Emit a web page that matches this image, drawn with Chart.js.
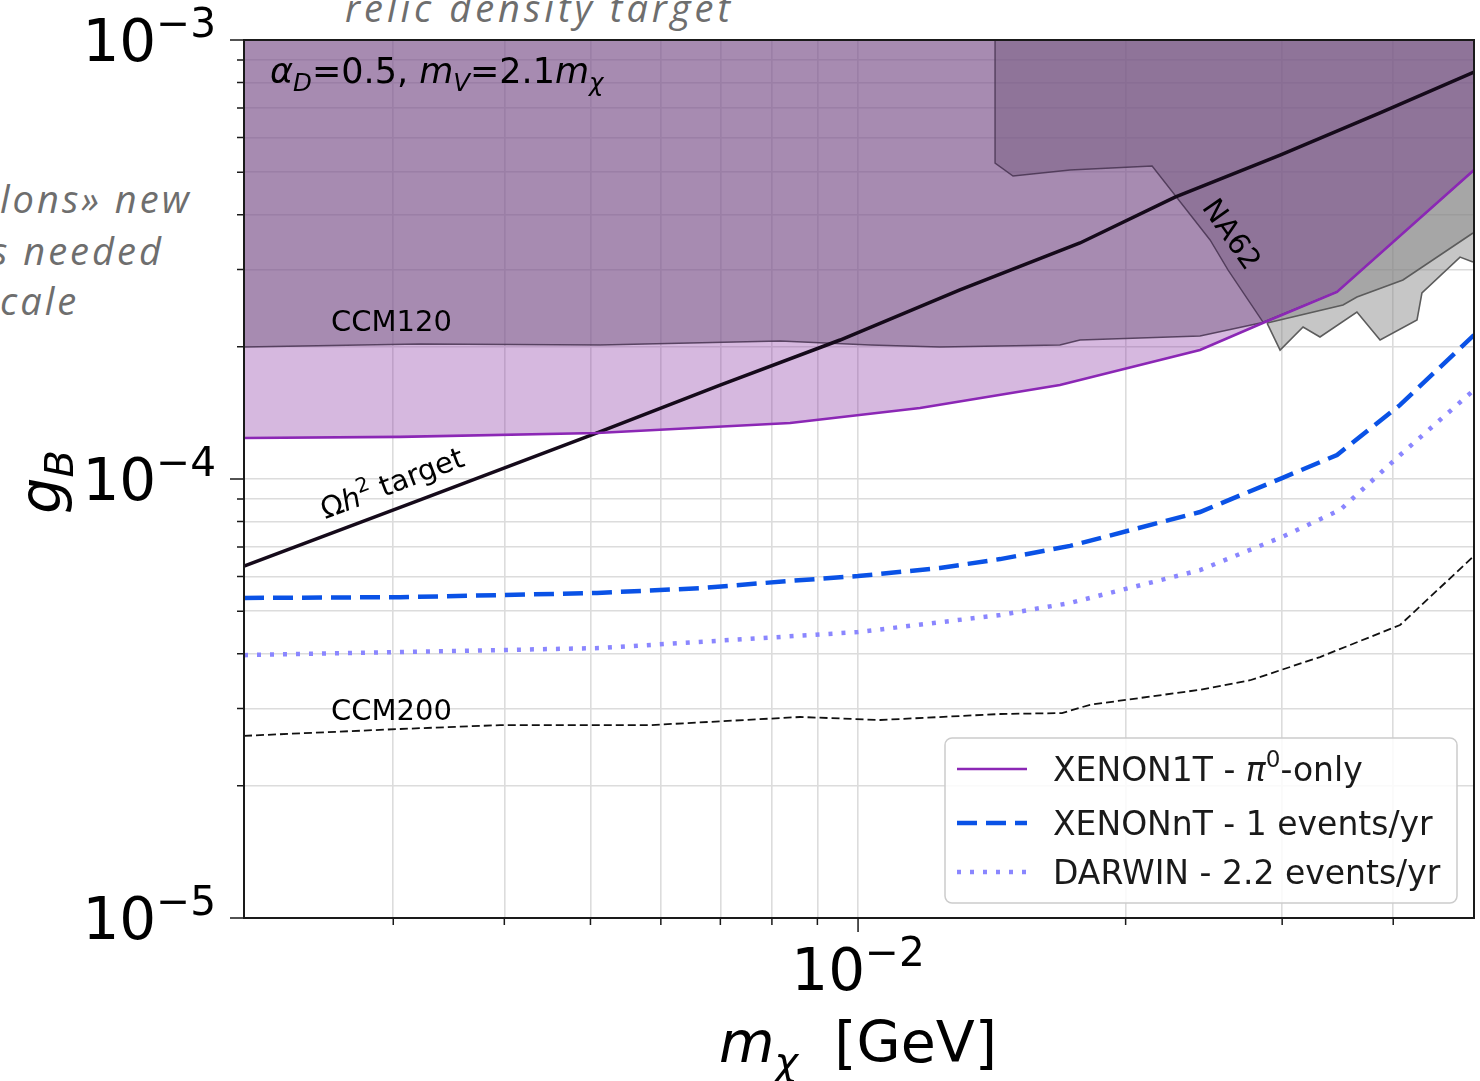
<!DOCTYPE html>
<html lang="en">
<head>
  <meta charset="UTF-8">
  <title>g_B vs m_chi - CCM / XENON / DARWIN reach</title>
  <script src="https://cdn.jsdelivr.net/npm/chart.js"></script>
  <style>
    html, body {
      margin: 0;
      padding: 0;
      background: #fff;
      overflow: hidden;
    }

    body {
      width: 1480px;
      height: 1081px;
      position: relative;
    }

    #plot {
      position: absolute;
      left: 0;
      top: 0;
    }

    .slide {
      position: absolute;
      color: #6e6e6e;
      font-family: 'Open Sans', sans-serif;
      font-style: italic;
      font-size: 38px;
      line-height: 1;
      white-space: nowrap;
      letter-spacing: 3px;
    }
  </style>
</head>
<body>

  <div class="slide" style="left:345px; top:-12px; letter-spacing:4px;">relic density target</div>
  <div class="slide" style="left:0px; top:179px;">lons» new</div>
  <div class="slide" style="left:-9px; top:231px;">s needed</div>
  <div class="slide" style="left:0px; top:281px;">cale</div>

  <canvas id="plot" width="1480" height="1081"></canvas>

  <script>
    // axis ranges and ticks
    const X_MIN = 0.002038, X_MAX = 0.04931;
    const Y_MIN = 1e-5, Y_MAX = 1e-3;
    const xTicks = [0.003, 0.004, 0.005, 0.006, 0.007, 0.008, 0.009, 0.01, 0.02, 0.03, 0.04];
    const yTicks = [1e-5, 2e-5, 3e-5, 4e-5, 5e-5, 6e-5, 7e-5, 8e-5, 9e-5,
                    1e-4, 2e-4, 3e-4, 4e-4, 5e-4, 6e-4, 7e-4, 8e-4, 9e-4, 1e-3];
    const xMajor = [0.01], xMajorExp = ['−2'];
    const yMajor = [1e-5, 1e-4, 1e-3], yMajorExp = ['−5', '−4', '−3'];

    // relic density target line
    const mOmega = [0.002038, 0.003216, 0.005086, 0.006995, 0.009545, 0.01302, 0.01777, 0.02273, 0.02984, 0.03866, 0.04931];
    const gOmega = [6.33e-5, 8.96e-5, 1.273e-4, 1.637e-4, 2.073e-4, 2.695e-4, 3.449e-4, 4.387e-4, 5.47e-4, 6.82e-4, 8.455e-4];

    // XENON1T pi0-only
    const mXe1T = [0.002038, 0.003053, 0.005086, 0.008386, 0.01174, 0.01687, 0.02425, 0.02870, 0.03458, 0.04931];
    const gXe1T = [1.240e-4, 1.247e-4, 1.273e-4, 1.341e-4, 1.451e-4, 1.637e-4, 1.967e-4, 2.278e-4, 2.667e-4, 5.056e-4];

    // XENONnT - 1 events/yr
    const mXeNT = [0.002038, 0.003053, 0.005086, 0.006642, 0.008386, 0.01, 0.01236, 0.01445, 0.01732, 0.02425, 0.02999, 0.03458, 0.04072, 0.04931];
    const gXeNT = [5.36e-5, 5.38e-5, 5.50e-5, 5.64e-5, 5.86e-5, 6.01e-5, 6.27e-5, 6.57e-5, 7.04e-5, 8.41e-5, 1.005e-4, 1.134e-4, 1.475e-4, 2.128e-4];

    // DARWIN - 2.2 events/yr
    const mDarwin = [0.002038, 0.005126, 0.01, 0.01445, 0.01732, 0.02425, 0.02999, 0.03485, 0.04072, 0.04931];
    const gDarwin = [3.97e-5, 4.12e-5, 4.48e-5, 4.90e-5, 5.22e-5, 6.20e-5, 7.38e-5, 8.50e-5, 1.134e-4, 1.595e-4];

    // CCM200 projection
    const mCCM200 = [0.002038, 0.003053, 0.003956, 0.005834, 0.008605, 0.01059, 0.01445, 0.01696, 0.01824, 0.02425, 0.02761, 0.03309, 0.04072, 0.04931];
    const gCCM200 = [2.60e-5, 2.695e-5, 2.75e-5, 2.75e-5, 2.87e-5, 2.825e-5, 2.915e-5, 2.93e-5, 3.06e-5, 3.31e-5, 3.48e-5, 3.93e-5, 4.65e-5, 6.68e-5];

    // CCM120 excluded region (lower edge)
    const mCCM120 = [0.002038, 0.003216, 0.005126, 0.008173, 0.01032, 0.01236, 0.01687, 0.01777, 0.02425, 0.02870, 0.03458, 0.04931];
    const gCCM120 = [1.998e-4, 2.030e-4, 2.019e-4, 2.062e-4, 2.019e-4, 1.998e-4, 2.019e-4, 2.073e-4, 2.117e-4, 2.278e-4, 2.667e-4, 5.056e-4];

    // NA62 excluded region (lower edge)
    const mNA62 = [0.01426, 0.01426, 0.01494, 0.01732, 0.02142, 0.02489, 0.02608, 0.02855, 0.03458, 0.04931];
    const gNA62 = [1e-3, 5.245e-4, 4.899e-4, 5.056e-4, 5.164e-4, 3.503e-4, 2.992e-4, 2.278e-4, 2.667e-4, 5.056e-4];

    // grey bounds (other limits), filled up to XENON1T
    const mGreyUp = [0.02885, 0.03512, 0.03641, 0.04102, 0.04918];
    const gGreyUp = [2.266e-4, 2.491e-4, 2.598e-4, 2.840e-4, 3.634e-4];
    const mGreyLow = [0.02885, 0.02984, 0.03167, 0.03309, 0.03641, 0.03866, 0.04254, 0.04309, 0.04756, 0.04918];
    const gGreyLow = [2.266e-4, 1.967e-4, 2.219e-4, 2.106e-4, 2.401e-4, 2.073e-4, 2.302e-4, 2.653e-4, 3.203e-4, 3.120e-4];

    const FONT = '"DejaVu Sans", sans-serif';
    const C_XE1T = '#8b27b5', C_XENT = '#0a52e6', C_DARWIN = '#8a86ff';

    function pts(xs, ys) {
      return xs.map((x, i) => ({ x: x, y: ys[i] }));
    }

    // text with italic / sub / sup pieces
    function richText(ctx, parts, x, y, size, align) {
      const pieces = parts.map(([t, s]) => {
        const small = s.endsWith('sub') || s.endsWith('sup');
        const sz = small ? size * 0.7 : size;
        const italic = s[0] === 'i';
        const dy = s.endsWith('sub') ? size * 0.22 : s.endsWith('sup') ? -size * 0.42 : 0;
        const font = (italic ? 'italic ' : '') + sz.toFixed(1) + 'px ' + FONT;
        ctx.font = font;
        return { t, font, dy, w: ctx.measureText(t).width };
      });
      const total = pieces.reduce((a, p) => a + p.w, 0);
      let cx = align === 'right' ? x - total : align === 'center' ? x - total / 2 : x;
      ctx.textAlign = 'left';
      pieces.forEach(p => {
        ctx.font = p.font;
        ctx.fillText(p.t, cx, y + p.dy);
        cx += p.w;
      });
      return total;
    }

    const legendRows = [
      { ds: 1, parts: [['XENON1T - ', 'n'], ['π', 'i'], ['0', 'sup'], ['-only', 'n']] },
      { ds: 2, parts: [['XENONnT - 1 events/yr', 'n']] },
      { ds: 3, parts: [['DARWIN - 2.2 events/yr', 'n']] }
    ];

    const decorPlugin = {
      id: 'decor',
      afterDatasetsDraw(chart) {
        const ctx = chart.ctx;
        const a = chart.chartArea;
        const xs = chart.scales.x, ys = chart.scales.y;
        ctx.save();

        // frame
        ctx.strokeStyle = '#1a1a1a';
        ctx.lineWidth = 2;
        ctx.strokeRect(a.left, a.top, a.right - a.left, a.bottom - a.top);

        // tick marks
        ctx.lineWidth = 1.5;
        ctx.beginPath();
        yTicks.forEach(v => {
          const p = ys.getPixelForValue(v);
          const len = yMajor.includes(v) ? 14 : 7;
          ctx.moveTo(a.left, p);
          ctx.lineTo(a.left - len, p);
        });
        xTicks.forEach(v => {
          const p = xs.getPixelForValue(v);
          const len = xMajor.includes(v) ? 14 : 7;
          ctx.moveTo(p, a.bottom);
          ctx.lineTo(p, a.bottom + len);
        });
        ctx.stroke();

        // tick labels
        ctx.fillStyle = '#000';
        ctx.textBaseline = 'alphabetic';
        yMajor.forEach((v, i) => {
          richText(ctx, [['10', 'n'], [yMajorExp[i], 'sup']], 216, ys.getPixelForValue(v) + 21, 58, 'right');
        });
        xMajor.forEach((v, i) => {
          richText(ctx, [['10', 'n'], [xMajorExp[i], 'sup']], xs.getPixelForValue(v), 990, 58, 'center');
        });

        // axis titles
        richText(ctx, [['m', 'i'], ['χ', 'isub'], ['  [GeV]', 'n']], 858, 1062, 57, 'center');
        ctx.save();
        ctx.translate(60, 482);
        ctx.rotate(-Math.PI / 2);
        richText(ctx, [['g', 'i'], ['B', 'isub']], 0, 0, 57, 'center');
        ctx.restore();

        // annotations inside the plot
        richText(ctx, [['α', 'i'], ['D', 'isub'], ['=0.5, ', 'n'], ['m', 'i'], ['V', 'isub'], ['=2.1', 'n'], ['m', 'i'], ['χ', 'isub']], 270, 83, 35, 'left');
        richText(ctx, [['CCM120', 'n']], 331, 331, 29, 'left');
        richText(ctx, [['CCM200', 'n']], 331, 720, 29, 'left');

        ctx.save();
        ctx.translate(1232, 234);
        ctx.rotate(55 * Math.PI / 180);
        richText(ctx, [['NA62', 'n']], 0, 10, 29, 'center');
        ctx.restore();

        ctx.save();
        ctx.translate(392, 483);
        ctx.rotate(-21 * Math.PI / 180);
        richText(ctx, [['Ω', 'n'], ['h', 'i'], ['2', 'sup'], [' target', 'n']], 0, 10, 29, 'center');
        ctx.restore();

        // legend
        const lx = 945, ly = 738, lw = 512, lh = 165;
        ctx.beginPath();
        ctx.roundRect(lx, ly, lw, lh, 7);
        ctx.fillStyle = 'rgba(255,255,255,0.85)';
        ctx.fill();
        ctx.strokeStyle = '#cccccc';
        ctx.lineWidth = 1.5;
        ctx.stroke();

        const rowY = [769, 823, 872];
        legendRows.forEach((row, i) => {
          const ds = chart.data.datasets[row.ds];
          ctx.beginPath();
          ctx.setLineDash(ds.borderDash || []);
          ctx.lineCap = 'butt';
          ctx.strokeStyle = ds.borderColor;
          ctx.lineWidth = ds.borderWidth;
          ctx.moveTo(957, rowY[i]);
          ctx.lineTo(1027, rowY[i]);
          ctx.stroke();
          ctx.setLineDash([]);
          ctx.fillStyle = '#1a1a1a';
          richText(ctx, row.parts, 1053, rowY[i] + 12, 33, 'left');
        });

        ctx.restore();
      }
    };

    const ctx = document.getElementById('plot').getContext('2d');
    new Chart(ctx, {
      type: 'line',
      data: {
        datasets: [
          { label: 'Ωh² target', data: pts(mOmega, gOmega), borderColor: '#150a1a', borderWidth: 3.5, fill: false, order: 2 },
          { label: 'XENON1T - π0-only', data: pts(mXe1T, gXe1T), borderColor: C_XE1T, borderWidth: 2.6, fill: false, order: 1 },
          { label: 'XENONnT - 1 events/yr', data: pts(mXeNT, gXeNT), borderColor: C_XENT, borderWidth: 4.5, borderDash: [20, 9], fill: false, order: 2 },
          { label: 'DARWIN - 2.2 events/yr', data: pts(mDarwin, gDarwin), borderColor: C_DARWIN, borderWidth: 4.5, borderDash: [4, 9], fill: false, order: 3 },
          { label: 'CCM200', data: pts(mCCM200, gCCM200), borderColor: '#111', borderWidth: 1.8, borderDash: [8, 4], fill: false, order: 4 },
          { label: 'grey upper', data: pts(mGreyUp, gGreyUp), borderColor: '#5c5c5c', borderWidth: 1.6,
            backgroundColor: 'rgba(128,128,128,0.45)', fill: { target: 1 }, order: 5 },
          { label: 'grey lower', data: pts(mGreyLow, gGreyLow), borderColor: '#5c5c5c', borderWidth: 1.6,
            backgroundColor: 'rgba(128,128,128,0.45)', fill: { target: 1 }, order: 6 },
          { label: 'NA62', data: pts(mNA62, gNA62), borderColor: 'rgba(70,50,80,0.85)', borderWidth: 1.4,
            backgroundColor: 'rgba(120,94,130,0.5)', fill: 'end', order: 7 },
          { label: 'CCM120', data: pts(mCCM120, gCCM120), borderColor: 'rgba(70,50,80,0.85)', borderWidth: 1.4,
            backgroundColor: 'rgba(120,94,131,0.5)', fill: 'end', order: 8 },
          { label: 'XENON1T region', data: pts(mXe1T, gXe1T), borderColor: 'transparent', borderWidth: 0,
            backgroundColor: 'rgba(138,52,164,0.35)', fill: 'end', order: 9 }
        ]
      },
      options: {
        responsive: false,
        animation: false,
        layout: { padding: { top: 40, right: 6, left: 0, bottom: 0 } },
        elements: { point: { radius: 0 }, line: { tension: 0 } },
        plugins: {
          legend: { display: false },
          tooltip: { enabled: false }
        },
        scales: {
          x: {
            type: 'logarithmic',
            min: X_MIN,
            max: X_MAX,
            afterBuildTicks: axis => { axis.ticks = xTicks.map(v => ({ value: v })); },
            afterFit: scale => { scale.height = 163; },
            ticks: { display: false },
            grid: { color: '#dcdcdc', lineWidth: 1.6, drawTicks: false },
            border: { display: false }
          },
          y: {
            type: 'logarithmic',
            min: Y_MIN,
            max: Y_MAX,
            afterBuildTicks: axis => { axis.ticks = yTicks.map(v => ({ value: v })); },
            afterFit: scale => { scale.width = 244; },
            ticks: { display: false },
            grid: { color: '#dcdcdc', lineWidth: 1.6, drawTicks: false },
            border: { display: false }
          }
        }
      },
      plugins: [decorPlugin]
    });
  </script>

</body>
</html>
